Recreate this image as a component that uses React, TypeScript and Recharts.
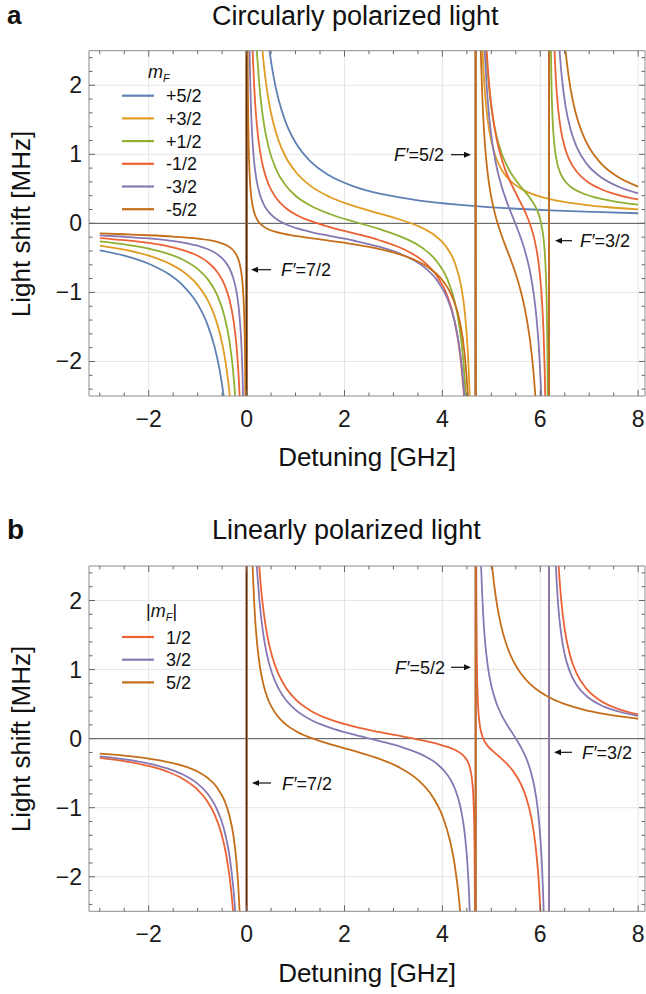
import React from 'react'
import { LineChart, Line, XAxis, YAxis, CartesianGrid, ReferenceLine } from 'recharts'

type Pt = [number, number]

// axis ticks: detuning in GHz, light shift in MHz
const X_MAJOR = [-2, 0, 2, 4, 6, 8]
const X_TICKS = [-3, -2.5, -2, -1.5, -1, -0.5, 0, 0.5, 1, 1.5, 2, 2.5, 3, 3.5, 4, 4.5, 5, 5.5, 6, 6.5, 7, 7.5, 8]
const Y_MAJOR = [-2, -1, 0, 1, 2]
const Y_TICKS = [-2.4, -2.2, -2, -1.8, -1.6, -1.4, -1.2, -1, -0.8, -0.6, -0.4, -0.2, 0, 0.2, 0.4, 0.6, 0.8, 1, 1.2, 1.4, 1.6, 1.8, 2, 2.2, 2.4]
const X_DOMAIN: [number, number] = [-3.22, 8.14]
const Y_DOMAIN: [number, number] = [-2.5, 2.5]

// (a) circular polarization, one curve per m_F   [detuning, shift]
const circP52: Pt[] = [[-3, -0.39], [-2.5, -0.468], [-2, -0.585], [-1.6, -0.731], [-1.3, -0.9], [-1, -1.17], [-0.8, -1.463], [-0.65, -1.8], [-0.55, -2.127], [-0.47, -2.489], [-0.4, -2.925], [-0.003, -99], [0.003, 99], [0.4, 2.925], [0.47, 2.489], [0.55, 2.127], [0.65, 1.8], [0.8, 1.463], [1, 1.17], [1.3, 0.9], [1.7, 0.688], [2.2, 0.532], [2.8, 0.418], [3.5, 0.334], [4.3, 0.272], [5.2, 0.225], [6.2, 0.189], [7.1, 0.165], [8, 0.146]]
const circP32: Pt[] = [[-3, -0.321], [-2.5, -0.38], [-2, -0.467], [-1.6, -0.575], [-1.3, -0.698], [-1, -0.894], [-0.8, -1.105], [-0.65, -1.347], [-0.55, -1.583], [-0.45, -1.922], [-0.38, -2.265], [-0.33, -2.598], [-0.28, -3.05], [-0.003, -99], [0.003, 99], [0.28, 2.911], [0.33, 2.458], [0.38, 2.124], [0.45, 1.781], [0.55, 1.441], [0.65, 1.205], [0.8, 0.961], [1, 0.747], [1.3, 0.546], [1.7, 0.382], [2.2, 0.248], [2.7, 0.144], [3.1, 0.063], [3.5, -0.038], [3.8, -0.152], [4.05, -0.313], [4.25, -0.564], [4.38, -0.899], [4.46, -1.299], [4.52, -1.859], [4.56, -2.542], [4.6, -3.906], [4.677, -99], [4.683, 99], [4.76, 4.263], [4.8, 2.899], [4.83, 2.353], [4.87, 1.893], [4.93, 1.478], [5, 1.189], [5.1, 0.943], [5.25, 0.733], [5.45, 0.578], [5.7, 0.467], [6, 0.387], [6.4, 0.321], [6.9, 0.269], [7.4, 0.233], [8, 0.203]]
const circP12: Pt[] = [[-3, -0.262], [-2.5, -0.305], [-2, -0.366], [-1.6, -0.441], [-1.3, -0.526], [-1, -0.66], [-0.8, -0.803], [-0.6, -1.039], [-0.45, -1.352], [-0.35, -1.707], [-0.28, -2.107], [-0.23, -2.541], [-0.19, -3.051], [-0.003, -99], [0.003, 99], [0.19, 2.802], [0.23, 2.291], [0.28, 1.857], [0.35, 1.457], [0.45, 1.1], [0.6, 0.786], [0.8, 0.547], [1, 0.4], [1.3, 0.258], [1.7, 0.135], [2.2, 0.023], [2.7, -0.08], [3.2, -0.206], [3.6, -0.36], [3.9, -0.562], [4.1, -0.803], [4.25, -1.126], [4.35, -1.499], [4.42, -1.93], [4.47, -2.411], [4.5, -2.828], [4.677, -99], [4.683, 99], [4.87, 2.808], [4.9, 2.43], [4.95, 1.986], [5.02, 1.582], [5.1, 1.282], [5.2, 1.033], [5.35, 0.791], [5.5, 0.624], [5.65, 0.491], [5.78, 0.377], [5.88, 0.27], [5.95, 0.166], [6, 0.056], [6.04, -0.08], [6.08, -0.315], [6.11, -0.658], [6.13, -1.109], [6.145, -1.782], [6.155, -2.676], [6.177, -99], [6.183, 99], [6.205, 3.555], [6.215, 2.66], [6.23, 1.988], [6.25, 1.538], [6.28, 1.196], [6.33, 0.925], [6.4, 0.746], [6.5, 0.617], [6.65, 0.515], [6.85, 0.439], [7.1, 0.379], [7.5, 0.319], [8, 0.27]]
const circM12: Pt[] = [[-3, -0.213], [-2.5, -0.243], [-2, -0.284], [-1.6, -0.333], [-1.3, -0.387], [-1, -0.47], [-0.8, -0.558], [-0.6, -0.703], [-0.45, -0.892], [-0.35, -1.107], [-0.27, -1.392], [-0.21, -1.747], [-0.17, -2.123], [-0.14, -2.545], [-0.115, -3.064], [-0.003, -99], [0.003, 99], [0.115, 2.737], [0.14, 2.217], [0.17, 1.795], [0.21, 1.42], [0.27, 1.064], [0.35, 0.779], [0.45, 0.563], [0.6, 0.371], [0.8, 0.223], [1, 0.129], [1.3, 0.035], [1.7, -0.053], [2.2, -0.144], [2.7, -0.241], [3.2, -0.372], [3.6, -0.543], [3.9, -0.772], [4.1, -1.046], [4.25, -1.412], [4.35, -1.836], [4.42, -2.322], [4.46, -2.737], [4.677, -99], [4.683, 99], [4.88, 2.834], [4.91, 2.445], [4.96, 1.98], [5.03, 1.546], [5.12, 1.184], [5.25, 0.846], [5.4, 0.581], [5.55, 0.367], [5.7, 0.151], [5.8, -0.03], [5.88, -0.229], [5.95, -0.493], [6, -0.793], [6.04, -1.176], [6.07, -1.64], [6.09, -2.117], [6.105, -2.639], [6.12, -3.42], [6.177, -99], [6.183, 99], [6.22, 6.265], [6.25, 3.757], [6.28, 2.75], [6.3, 2.356], [6.33, 1.959], [6.37, 1.627], [6.42, 1.361], [6.5, 1.103], [6.6, 0.912], [6.75, 0.744], [6.95, 0.61], [7.2, 0.509], [7.6, 0.41], [8, 0.347]]
const circM32: Pt[] = [[-3, -0.175], [-2.5, -0.194], [-2, -0.219], [-1.6, -0.248], [-1.3, -0.278], [-1, -0.324], [-0.8, -0.371], [-0.6, -0.446], [-0.45, -0.544], [-0.35, -0.653], [-0.27, -0.797], [-0.2, -1.016], [-0.15, -1.296], [-0.11, -1.702], [-0.085, -2.149], [-0.07, -2.571], [-0.058, -3.065], [-0.003, -99], [0.003, 99], [0.058, 2.69], [0.07, 2.196], [0.085, 1.774], [0.11, 1.327], [0.15, 0.92], [0.2, 0.64], [0.27, 0.421], [0.35, 0.276], [0.45, 0.166], [0.6, 0.067], [0.8, -0.013], [1, -0.065], [1.3, -0.122], [1.7, -0.182], [2.2, -0.252], [2.7, -0.337], [3.2, -0.458], [3.6, -0.619], [3.9, -0.833], [4.1, -1.086], [4.25, -1.419], [4.35, -1.802], [4.42, -2.238], [4.46, -2.61], [4.5, -3.144], [4.677, -99], [4.683, 99], [4.85, 2.759], [4.87, 2.43], [4.9, 2.045], [4.95, 1.59], [5.02, 1.169], [5.1, 0.845], [5.2, 0.561], [5.3, 0.344], [5.4, 0.159], [5.5, -0.019], [5.6, -0.207], [5.7, -0.431], [5.8, -0.733], [5.87, -1.039], [5.93, -1.421], [5.98, -1.905], [6.02, -2.5], [6.05, -3.18], [6.177, -99], [6.183, 99], [6.3, 4.241], [6.35, 3.087], [6.4, 2.453], [6.45, 2.051], [6.52, 1.683], [6.62, 1.356], [6.75, 1.097], [6.95, 0.861], [7.2, 0.689], [7.6, 0.53], [8, 0.435]]
const circM52: Pt[] = [[-3, -0.146], [-2.5, -0.158], [-2, -0.172], [-1.5, -0.192], [-1, -0.222], [-0.6, -0.269], [-0.4, -0.321], [-0.25, -0.411], [-0.15, -0.564], [-0.1, -0.752], [-0.07, -0.993], [-0.05, -1.314], [-0.035, -1.795], [-0.027, -2.269], [-0.022, -2.74], [-0.018, -3.306], [-0.003, -99], [0.003, 99], [0.018, 2.915], [0.022, 2.349], [0.027, 1.877], [0.035, 1.403], [0.05, 0.922], [0.07, 0.602], [0.1, 0.361], [0.15, 0.172], [0.2, 0.077], [0.3, -0.02], [0.45, -0.088], [0.7, -0.142], [1, -0.183], [1.5, -0.232], [2, -0.28], [2.5, -0.339], [3, -0.421], [3.4, -0.519], [3.75, -0.657], [4, -0.824], [4.2, -1.061], [4.35, -1.403], [4.45, -1.859], [4.52, -2.5], [4.56, -3.193], [4.677, -99], [4.683, 99], [4.78, 2.726], [4.8, 2.173], [4.83, 1.615], [4.87, 1.139], [4.93, 0.697], [5, 0.375], [5.1, 0.069], [5.2, -0.154], [5.3, -0.347], [5.42, -0.572], [5.55, -0.849], [5.68, -1.219], [5.8, -1.746], [5.87, -2.225], [5.92, -2.719], [5.96, -3.271], [6.177, -99], [6.183, 99], [6.42, 3.438], [6.5, 2.62], [6.55, 2.286], [6.62, 1.945], [6.72, 1.609], [6.85, 1.32], [7, 1.098], [7.25, 0.862], [7.55, 0.689], [8, 0.533]]

// (b) linear polarization, one curve per |m_F|
const lin12: Pt[] = [[-3, -0.278], [-2.5, -0.326], [-2, -0.397], [-1.6, -0.483], [-1.3, -0.583], [-1, -0.74], [-0.8, -0.909], [-0.65, -1.104], [-0.52, -1.363], [-0.42, -1.67], [-0.35, -1.989], [-0.3, -2.309], [-0.26, -2.652], [-0.22, -3.121], [-0.003, -99], [0.003, 99], [0.22, 2.955], [0.26, 2.487], [0.3, 2.143], [0.35, 1.824], [0.42, 1.504], [0.52, 1.196], [0.65, 0.937], [0.8, 0.741], [1, 0.57], [1.3, 0.409], [1.7, 0.278], [2.2, 0.174], [2.7, 0.097], [3.2, 0.03], [3.6, -0.026], [3.9, -0.076], [4.1, -0.118], [4.3, -0.179], [4.45, -0.262], [4.55, -0.391], [4.61, -0.62], [4.64, -0.977], [4.655, -1.471], [4.665, -2.345], [4.67, -3.436], [4.677, -99], [4.683, 99], [4.69, 3.099], [4.695, 2.008], [4.705, 1.134], [4.72, 0.64], [4.75, 0.282], [4.8, 0.074], [4.9, -0.08], [5, -0.16], [5.15, -0.254], [5.3, -0.352], [5.45, -0.474], [5.6, -0.65], [5.72, -0.867], [5.82, -1.154], [5.9, -1.528], [5.96, -1.985], [6, -2.458], [6.03, -2.978], [6.177, -99], [6.183, 99], [6.3, 4.018], [6.34, 3.044], [6.38, 2.459], [6.43, 1.991], [6.5, 1.58], [6.6, 1.23], [6.75, 0.934], [6.95, 0.717], [7.2, 0.564], [7.6, 0.428], [8, 0.35]]
const lin32: Pt[] = [[-3, -0.258], [-2.5, -0.3], [-2, -0.36], [-1.6, -0.435], [-1.3, -0.519], [-1, -0.652], [-0.8, -0.794], [-0.65, -0.958], [-0.52, -1.174], [-0.42, -1.431], [-0.34, -1.745], [-0.28, -2.097], [-0.24, -2.429], [-0.2, -2.894], [-0.003, -99], [0.003, 99], [0.2, 2.667], [0.24, 2.202], [0.28, 1.87], [0.34, 1.517], [0.42, 1.203], [0.52, 0.946], [0.65, 0.728], [0.8, 0.563], [1, 0.417], [1.3, 0.278], [1.7, 0.16], [2.2, 0.057], [2.7, -0.032], [3.2, -0.129], [3.6, -0.238], [3.9, -0.371], [4.1, -0.521], [4.25, -0.714], [4.37, -0.993], [4.45, -1.333], [4.51, -1.792], [4.55, -2.33], [4.57, -2.744], [4.6, -3.75], [4.677, -99], [4.683, 99], [4.78, 2.834], [4.8, 2.341], [4.83, 1.845], [4.87, 1.424], [4.93, 1.04], [5, 0.767], [5.1, 0.521], [5.2, 0.355], [5.3, 0.226], [5.4, 0.113], [5.5, 0.002], [5.6, -0.117], [5.7, -0.262], [5.8, -0.46], [5.88, -0.697], [5.95, -1.027], [6, -1.412], [6.04, -1.913], [6.07, -2.524], [6.1, -3.589], [6.177, -99], [6.183, 99], [6.27, 3.73], [6.3, 2.862], [6.33, 2.34], [6.37, 1.898], [6.43, 1.499], [6.5, 1.219], [6.6, 0.978], [6.75, 0.77], [6.95, 0.614], [7.2, 0.499], [7.6, 0.393], [8, 0.329]]
const lin52: Pt[] = [[-3, -0.218], [-2.5, -0.247], [-2, -0.289], [-1.6, -0.339], [-1.3, -0.394], [-1, -0.478], [-0.8, -0.567], [-0.6, -0.711], [-0.45, -0.902], [-0.35, -1.117], [-0.27, -1.402], [-0.21, -1.758], [-0.17, -2.133], [-0.14, -2.555], [-0.115, -3.074], [-0.003, -99], [0.003, 99], [0.115, 2.725], [0.14, 2.206], [0.17, 1.784], [0.21, 1.408], [0.27, 1.052], [0.35, 0.766], [0.45, 0.549], [0.6, 0.356], [0.8, 0.207], [1, 0.112], [1.3, 0.015], [1.7, -0.078], [2.2, -0.178], [2.7, -0.289], [3.1, -0.409], [3.5, -0.597], [3.8, -0.84], [4, -1.118], [4.15, -1.461], [4.26, -1.867], [4.33, -2.257], [4.38, -2.647], [4.43, -3.193], [4.677, -99], [4.683, 99], [4.95, 3.093], [5, 2.62], [5.05, 2.274], [5.12, 1.922], [5.2, 1.635], [5.3, 1.381], [5.45, 1.122], [5.6, 0.948], [5.8, 0.787], [6, 0.675], [6.25, 0.574], [6.55, 0.488], [6.9, 0.416], [7.3, 0.358], [7.7, 0.314], [8, 0.288]]

const CIRC_NAMES = ['+5/2', '+3/2', '+1/2', '-1/2', '-3/2', '-5/2']
const LIN_NAMES = ['1/2', '3/2', '5/2']

type Series = { name: string; color: string; data: Pt[] }

const CIRC: Series[] = [
  { name: CIRC_NAMES[0], color: '#5E81B5', data: circP52 },
  { name: CIRC_NAMES[1], color: '#E19C24', data: circP32 },
  { name: CIRC_NAMES[2], color: '#8FB032', data: circP12 },
  { name: CIRC_NAMES[3], color: '#EB6235', data: circM12 },
  { name: CIRC_NAMES[4], color: '#8778B3', data: circM32 },
  { name: CIRC_NAMES[5], color: '#C56E1A', data: circM52 },
]
const LIN: Series[] = [
  { name: LIN_NAMES[0], color: '#EB6235', data: lin12 },
  { name: LIN_NAMES[1], color: '#8778B3', data: lin32 },
  { name: LIN_NAMES[2], color: '#C56E1A', data: lin52 },
]

const FONT = '"Liberation Sans", Arial, Helvetica, sans-serif'
const FRAME = '#8c8c8c'
const TICK = '#666'
const fmt = (v: number) => (v < 0 ? '\u2212' + Math.abs(v) : String(v))
const toRows = (a: Pt[]) => a.map(([x, y]) => ({ x, y }))

// axes are 1px thick boxes; ticks point into the plot, labels only on majors
const BottomTick = (p: any) => {
  const major = X_MAJOR.includes(p.payload.value)
  return (
    <g>
      <line x1={p.x} x2={p.x} y1={p.y} y2={p.y - (major ? 6 : 3.5)} stroke={TICK} />
      {major && (
        <text x={p.x} y={p.y + 31} textAnchor="middle" fontSize={23} fontFamily={FONT} fill="#1a1a1a">
          {fmt(p.payload.value)}
        </text>
      )}
    </g>
  )
}
const TopTick = (p: any) => {
  const major = X_MAJOR.includes(p.payload.value)
  return <line x1={p.x} x2={p.x} y1={p.y} y2={p.y + (major ? 6 : 3.5)} stroke={TICK} />
}
const LeftTick = (p: any) => {
  const major = Y_MAJOR.includes(p.payload.value)
  return (
    <g>
      <line x1={p.x} x2={p.x + (major ? 6 : 3.5)} y1={p.y} y2={p.y} stroke={TICK} />
      {major && (
        <text x={p.x - 7} y={p.y + 8} textAnchor="end" fontSize={23} fontFamily={FONT} fill="#1a1a1a">
          {fmt(p.payload.value)}
        </text>
      )}
    </g>
  )
}
const RightTick = (p: any) => {
  const major = Y_MAJOR.includes(p.payload.value)
  return <line x1={p.x} x2={p.x - (major ? 6 : 3.5)} y1={p.y} y2={p.y} stroke={TICK} />
}

function Panel({ series, margin }: { series: Series[]; margin: any }) {
  return (
    <LineChart width={646} height={497} margin={margin}>
      <CartesianGrid xAxisId="b" yAxisId="l" stroke="#e6e6e6" horizontalValues={Y_MAJOR} verticalValues={X_MAJOR} />
      <XAxis xAxisId="b" type="number" dataKey="x" domain={X_DOMAIN} allowDataOverflow ticks={X_TICKS} interval={0}
        height={1} tickSize={0} tickMargin={0} tickLine={false} stroke={FRAME} tick={BottomTick} />
      <XAxis xAxisId="t" orientation="top" type="number" dataKey="x" domain={X_DOMAIN} allowDataOverflow ticks={X_TICKS} interval={0}
        height={1} tickSize={0} tickMargin={0} tickLine={false} stroke={FRAME} tick={TopTick} />
      <YAxis yAxisId="l" type="number" domain={Y_DOMAIN} allowDataOverflow ticks={Y_TICKS} interval={0}
        width={1} tickSize={0} tickMargin={0} tickLine={false} stroke={FRAME} tick={LeftTick} />
      <YAxis yAxisId="r" orientation="right" type="number" domain={Y_DOMAIN} allowDataOverflow ticks={Y_TICKS} interval={0}
        width={1} tickSize={0} tickMargin={0} tickLine={false} stroke={FRAME} tick={RightTick} />
      <ReferenceLine xAxisId="b" yAxisId="l" y={0} stroke="#555" strokeWidth={1} />
      {series.map((s) => (
        <Line key={s.name} xAxisId="b" yAxisId="l" data={toRows(s.data)} dataKey="y" name={s.name} type="monotone"
          stroke={s.color} strokeWidth={1.8} dot={false} activeDot={false} isAnimationActive={false} />
      ))}
      <ReferenceLine xAxisId="b" yAxisId="l" x={0} stroke="#3a2c1c" strokeWidth={1} />
    </LineChart>
  )
}

function Arrow({ tip, tail, y }: { tip: number; tail: number; y: number }) {
  const d = tip < tail ? 1 : -1
  return (
    <g>
      <line x1={tail} x2={tip + d * 6} y1={y} y2={y} stroke="#111" strokeWidth={1.2} />
      <polygon points={`${tip},${y} ${tip + d * 7},${y - 3} ${tip + d * 7},${y + 3}`} fill="#111" />
    </g>
  )
}

function Note({ x, y, anchor, val }: { x: number; y: number; anchor: 'start' | 'end'; val: string }) {
  return (
    <text x={x} y={y + 6.5} textAnchor={anchor} fontSize={18} fontFamily={FONT} fill="#111">
      <tspan fontStyle="italic">F′</tspan>={val}
    </text>
  )
}

function LegendBox({ series, top, title }: { series: Series[]; top: number; title: React.ReactNode }) {
  return (
    <g fontFamily={FONT} fill="#111">
      {title}
      {series.map((s, i) => {
        const y = top + i * 22.7
        return (
          <g key={s.name}>
            <line x1={122} x2={154} y1={y} y2={y} stroke={s.color} strokeWidth={2.2} />
            <text x={166} y={y + 6.5} fontSize={18}>{s.name}</text>
          </g>
        )
      })}
    </g>
  )
}

export default function App() {
  return (
    <div style={{ position: 'absolute', left: 0, top: 0, width: 646, height: 994, background: '#fff' }}>
      <div style={{ position: 'absolute', left: 0, top: 0 }}>
        <Panel series={CIRC} margin={{ top: 49.7, right: 0, bottom: 100, left: 88 }} />
      </div>
      <div style={{ position: 'absolute', left: 0, top: 497 }}>
        <Panel series={LIN} margin={{ top: 68, right: 0, bottom: 81.7, left: 88 }} />
      </div>
      <svg width={646} height={994} style={{ position: 'absolute', left: 0, top: 0, pointerEvents: 'none' }}
        fontFamily={FONT}>
        {/* panel a */}
        <text x={7} y={24} fontSize={26} fontWeight="bold" fill="#111">a</text>
        <text x={212} y={24.5} fontSize={27} fill="#111">Circularly polarized light</text>
        <text x={30} y={224} fontSize={26} textAnchor="middle" transform="rotate(-90 30 224)" fill="#111">Light shift [MHz]</text>
        <text x={367} y={466} fontSize={26} textAnchor="middle" fill="#111">Detuning [GHz]</text>
        <LegendBox series={CIRC} top={95.7} title={
          <text x={148} y={78} fontSize={18} fontStyle="italic">m<tspan fontSize={11} dy={4}>F</tspan></text>
        } />
        <Arrow tip={251} tail={271} y={269.7} />
        <Note x={281} y={269.7} anchor="start" val="7/2" />
        <Note x={444} y={154.7} anchor="end" val="5/2" />
        <Arrow tip={471} tail={451} y={154.7} />
        <Arrow tip={555} tail={572} y={240.7} />
        <Note x={580} y={240.7} anchor="start" val="3/2" />

        {/* panel b */}
        <text x={7} y={539} fontSize={28} fontWeight="bold" fill="#111">b</text>
        <text x={212} y={539} fontSize={27} fill="#111">Linearly polarized light</text>
        <text x={30} y={739} fontSize={26} textAnchor="middle" transform="rotate(-90 30 739)" fill="#111">Light shift [MHz]</text>
        <text x={367} y={982} fontSize={26} textAnchor="middle" fill="#111">Detuning [GHz]</text>
        <LegendBox series={LIN} top={637} title={
          <text x={146} y={617} fontSize={18}>|<tspan fontStyle="italic">m</tspan><tspan fontSize={11} dy={4} fontStyle="italic">F</tspan><tspan dy={-4}>|</tspan></text>
        } />
        <Arrow tip={252} tail={271} y={783} />
        <Note x={282} y={783} anchor="start" val="7/2" />
        <Note x={445} y={667.3} anchor="end" val="5/2" />
        <Arrow tip={471} tail={451} y={667.3} />
        <Arrow tip={554} tail={572} y={752.3} />
        <Note x={582} y={752.3} anchor="start" val="3/2" />
      </svg>
    </div>
  )
}
